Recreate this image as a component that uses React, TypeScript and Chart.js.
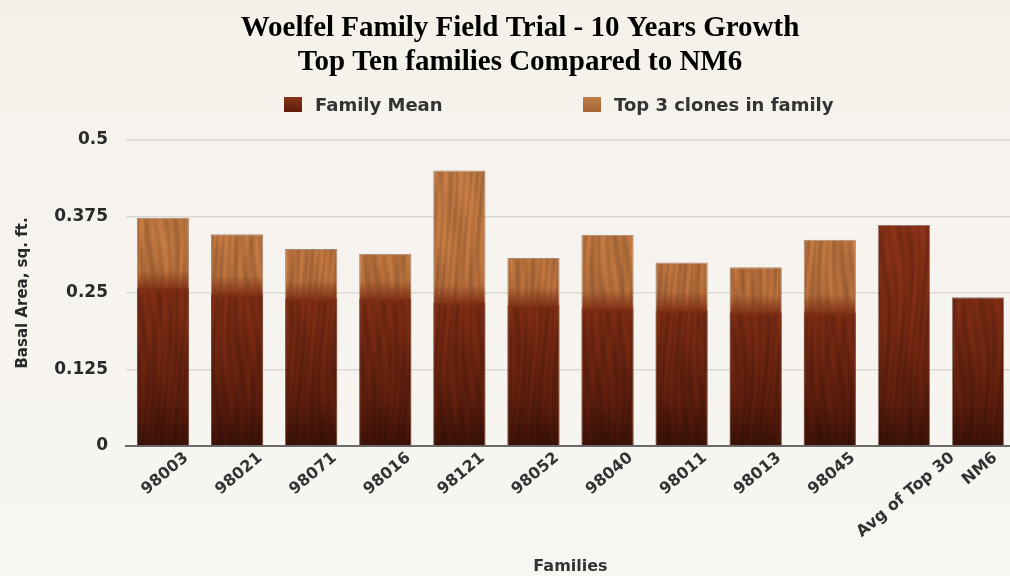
import React, { useEffect, useRef } from 'react';
import { Chart, registerables } from 'chart.js';

Chart.register(...registerables);

// ---- chart data ----
const families = ['98003', '98021', '98071', '98016', '98121', '98052', '98040', '98011', '98013', '98045', 'Avg of Top 30', 'NM6'];
const familyMean = [0.258, 0.248, 0.241, 0.241, 0.234, 0.23, 0.225, 0.222, 0.218, 0.218, 0.361, 0.243];
const top3Clones = [0.373, 0.346, 0.322, 0.314, 0.45, 0.307, 0.345, 0.3, 0.292, 0.337, null, null];
const yTickValues = [0, 0.125, 0.25, 0.375, 0.5];
const seriesNames = ['Family Mean', 'Top 3 clones in family'];
const titleLines = ['Woelfel Family Field Trial - 10 Years Growth', 'Top Ten families Compared to NM6'];
const yAxisTitle = 'Basal Area, sq. ft.';
const xAxisTitle = 'Families';

const W = 1020;
const H = 576;
const SANS = '"DejaVu Sans", Verdana, sans-serif';
const SERIF = '"Liberation Serif", "Times New Roman", serif';

type Stop = [number, [number, number, number]];

const meanStops: Stop[] = [
  [140, [136, 50, 22]],
  [230, [130, 47, 21]],
  [320, [114, 40, 18]],
  [400, [88, 28, 12]],
  [446, [56, 16, 7]],
];
const cloneStops: Stop[] = [
  [160, [184, 116, 64]],
  [240, [180, 112, 60]],
  [320, [166, 98, 52]],
];

function colorAt(stops: Stop[], y: number): [number, number, number] {
  if (y <= stops[0][0]) return stops[0][1];
  for (let i = 1; i < stops.length; i++) {
    if (y <= stops[i][0]) {
      const [y0, c0] = stops[i - 1];
      const [y1, c1] = stops[i];
      const t = (y - y0) / (y1 - y0);
      return [c0[0] + (c1[0] - c0[0]) * t, c0[1] + (c1[1] - c0[1]) * t, c0[2] + (c1[2] - c0[2]) * t];
    }
  }
  return stops[stops.length - 1][1];
}

// Wood-grain texture covering the whole canvas, so a pattern fill lines up with canvas coordinates.
function makeWood(stops: Stop[], phase: number): HTMLCanvasElement {
  const c = document.createElement('canvas');
  c.width = W;
  c.height = H;
  const g = c.getContext('2d')!;
  const img = g.createImageData(W, H);
  const d = img.data;
  for (let y = 0; y < H; y++) {
    const base = colorAt(stops, y);
    for (let x = 0; x < W; x++) {
      const w1 = Math.sin((x + 5 * Math.sin(y / 41 + x / 19 + phase)) * 0.83);
      const w2 = Math.sin(x * 2.1 + y / 57 + phase * 3);
      const w3 = Math.sin(x * 0.31 + Math.sin(y / 23 + x * 0.11) * 1.7 + phase);
      const f = 1 + 0.06 * w1 + 0.03 * w2 + 0.05 * w3;
      const i = (y * W + x) * 4;
      d[i] = Math.min(255, base[0] * f);
      d[i + 1] = Math.min(255, base[1] * f);
      d[i + 2] = Math.min(255, base[2] * f);
      d[i + 3] = 255;
    }
  }
  g.putImageData(img, 0, 0);
  return c;
}

const decorPlugin = {
  id: 'decor',
  beforeDraw(chart: any) {
    const ctx = chart.ctx;
    ctx.save();
    const bg = ctx.createLinearGradient(0, 0, 0, H);
    bg.addColorStop(0, '#f4f0e9');
    bg.addColorStop(0.25, '#f6f3ee');
    bg.addColorStop(1, '#f8f6f2');
    ctx.fillStyle = bg;
    ctx.fillRect(0, 0, W, H);
    ctx.restore();
  },
  afterDatasetsDraw(chart: any) {
    // soft blend where the family mean meets the top-3 segment
    const ctx = chart.ctx;
    const meta = chart.getDatasetMeta(0);
    ctx.save();
    meta.data.forEach((el: any, i: number) => {
      if (top3Clones[i] == null) return;
      const { x, y, width } = el.getProps(['x', 'y', 'width'], true);
      const g = ctx.createLinearGradient(0, y - 18, 0, y + 5);
      g.addColorStop(0, 'rgba(125,50,22,0)');
      g.addColorStop(0.78, 'rgba(128,48,21,0.9)');
      g.addColorStop(1, 'rgba(128,47,21,0)');
      ctx.fillStyle = g;
      ctx.fillRect(x - width / 2 + 1, y - 18, width - 2, 23);
    });
    ctx.restore();
  },
  afterDraw(chart: any) {
    const ctx = chart.ctx;
    ctx.save();
    // title
    ctx.fillStyle = '#000';
    ctx.font = `bold 29px ${SERIF}`;
    ctx.textAlign = 'center';
    ctx.textBaseline = 'alphabetic';
    ctx.fillText(titleLines[0], 520, 36);
    ctx.fillText(titleLines[1], 520, 70);

    // legend
    const legendItems = [
      { x: 284, fill: ['#8a3418', '#5e1c0a'] },
      { x: 583, fill: ['#c0804a', '#a4622f'] },
    ];
    ctx.font = `bold 18px ${SANS}`;
    ctx.textAlign = 'left';
    legendItems.forEach((it, i) => {
      const g = ctx.createLinearGradient(0, 97, 0, 112);
      g.addColorStop(0, it.fill[0]);
      g.addColorStop(1, it.fill[1]);
      ctx.fillStyle = g;
      ctx.fillRect(it.x, 97, 18, 15);
      ctx.fillStyle = '#333';
      ctx.fillText(seriesNames[i], it.x + 31, 111);
    });

    // rotated category labels, centred under each bar
    const xs = chart.scales.x;
    const ang = (40 * Math.PI) / 180;
    ctx.font = `bold 16px ${SANS}`;
    ctx.fillStyle = '#333';
    ctx.textAlign = 'center';
    ctx.textBaseline = 'middle';
    families.forEach((lab, i) => {
      const px = xs.getPixelForValue(i) + 2;
      const w = ctx.measureText(lab).width;
      const cy = xs.top + 10 + (w / 2) * Math.sin(ang);
      ctx.save();
      ctx.translate(px, cy);
      ctx.rotate(-ang);
      ctx.fillText(lab, 0, 0);
      ctx.restore();
    });
    ctx.restore();
  },
};

export default function App() {
  const canvasRef = useRef<HTMLCanvasElement | null>(null);

  useEffect(() => {
    const canvas = canvasRef.current;
    if (!canvas) return;
    const meanWood = canvas.getContext('2d')!.createPattern(makeWood(meanStops, 0.4), 'no-repeat')!;
    const cloneWood = canvas.getContext('2d')!.createPattern(makeWood(cloneStops, 1.7), 'no-repeat')!;

    const chart = new Chart(canvas, {
      type: 'bar',
      data: {
        labels: families,
        datasets: [
          {
            label: seriesNames[0],
            data: familyMean,
            backgroundColor: meanWood as any,
            borderColor: 'rgba(60,20,8,0.55)',
            borderWidth: (c: any) =>
              top3Clones[c.dataIndex] == null
                ? { top: 1, left: 1, right: 1, bottom: 0 }
                : { top: 0, left: 1, right: 1, bottom: 0 },
            borderSkipped: false,
            barPercentage: 0.705,
            categoryPercentage: 1,
          },
          {
            label: seriesNames[1],
            data: top3Clones,
            backgroundColor: cloneWood as any,
            borderColor: 'rgba(95,50,20,0.55)',
            borderWidth: { top: 1, left: 1, right: 1, bottom: 0 },
            borderSkipped: false,
            barPercentage: 0.705,
            categoryPercentage: 1,
          },
        ],
      },
      options: {
        responsive: false,
        devicePixelRatio: 1,
        animation: false,
        events: [],
        layout: { padding: { top: 140, right: 5, bottom: 0, left: 0 } },
        plugins: {
          legend: { display: false },
          title: { display: false },
          tooltip: { enabled: false },
        },
        scales: {
          x: {
            stacked: true,
            grid: { display: false, drawTicks: false },
            border: { display: true, color: '#6a6a6a', width: 2 },
            ticks: { display: false },
            title: {
              display: true,
              text: xAxisTitle,
              color: '#333',
              font: { family: SANS, size: 16, weight: 'bold' },
              padding: { top: 0, bottom: 0 },
            },
            afterFit: (s: any) => {
              s.height = 130;
            },
          },
          y: {
            stacked: false,
            min: 0,
            max: 0.5,
            afterBuildTicks: (s: any) => {
              s.ticks = yTickValues.map((v) => ({ value: v }));
            },
            grid: {
              drawTicks: false,
              color: (c: any) => (c.tick && c.tick.value === 0 ? 'rgba(0,0,0,0)' : '#dcd9d4'),
              lineWidth: 1.5,
            },
            border: { display: false },
            ticks: {
              padding: 18,
              color: '#2a2a2a',
              font: { family: SANS, size: 17, weight: 'bold' },
              callback: (v: any) => String(v),
            },
            title: {
              display: true,
              text: yAxisTitle,
              color: '#2a2a2a',
              font: { family: SANS, size: 15, weight: 'bold' },
              padding: { top: 14, bottom: 0 },
            },
            afterFit: (s: any) => {
              s.width = 126;
            },
          },
        },
      },
      plugins: [decorPlugin],
    });

    return () => chart.destroy();
  }, []);

  return (
    <div
      style={{
        position: 'fixed',
        left: 0,
        top: 0,
        width: 1010,
        height: 576,
        overflow: 'hidden',
        background: '#f7f4ef',
      }}
    >
      <canvas ref={canvasRef} width={W} height={H} style={{ display: 'block', width: W, height: H }} />
    </div>
  );
}
